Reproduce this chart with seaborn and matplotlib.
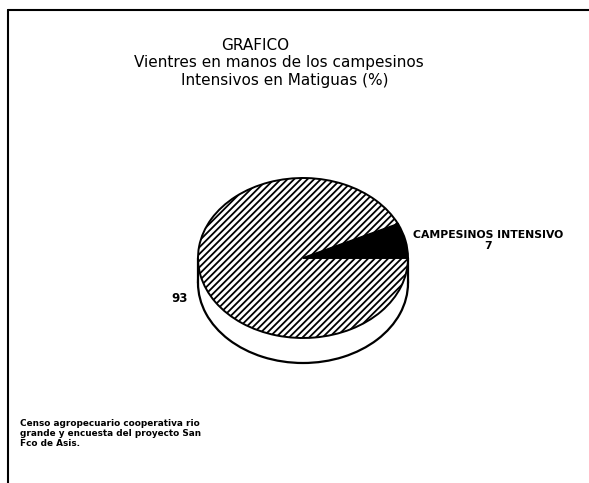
import numpy as np
import matplotlib
matplotlib.use("Agg")
import matplotlib.pyplot as plt
import seaborn as sns
from matplotlib.patches import Rectangle
from matplotlib.lines import Line2D

sns.set_style("white")
plt.rcParams['font.family'] = ['DejaVu Sans']
plt.rcParams['text.color'] = 'black'
plt.rcParams['hatch.linewidth'] = 1.3

# data
labels = ['CAMPESINOS INTENSIVO', '']
values = [7, 93]
title_lines = ['GRAFICO', 'Vientres en manos de los campesinos', 'Intensivos en Matiguas (%)']
source = 'Censo agropecuario cooperativa rio\ngrande y encuesta del proyecto San\nFco de Asis.'

W, H = 589, 483
squash = 80 / 105  # vertical flattening of the pie
cx, cy_px, r = 303, 258, 105
depth_px = 25

fig = plt.figure(figsize=(W / 100, H / 100), dpi=100)
ax = fig.add_axes([0, 0, 1, 1])

cy = (H - cy_px) / squash
depth = depth_px / squash

# side of the "3d" pie
ax.pie([100], colors=['white'], center=(cx, cy - depth), radius=r,
       wedgeprops=dict(edgecolor='black', linewidth=1.6), frame=True)
ax.add_patch(Rectangle((cx - r, cy - depth), 2 * r, depth, facecolor='white',
                       edgecolor='none', zorder=2))
ax.plot([cx - r, cx - r], [cy, cy - depth], color='black', lw=1.6, zorder=3)
ax.plot([cx + r, cx + r], [cy, cy - depth], color='black', lw=1.6, zorder=3)

# top face
wedges, _ = ax.pie(values, colors=['black', 'white'], startangle=0, counterclock=True,
                   center=(cx, cy), radius=r, hatch=['', '/////'],
                   wedgeprops=dict(edgecolor='black', linewidth=1.4), frame=True)
for w in wedges:
    w.set_zorder(4)

ax.set_aspect('auto')
ax.set_xlim(0, W)
ax.set_ylim(0, H / squash)
ax.axis('off')

# wedge labels
angles = np.cumsum([0] + values) / sum(values) * 360
mids = [(angles[i] + angles[i + 1]) / 2 for i in range(len(values))]
a = np.deg2rad(mids[0])
ax.text(cx + 1.07 * r * np.cos(a), cy + 1.0 * r * np.sin(a), labels[0] + '\n' + str(values[0]),
        ha='left', va='center', multialignment='center', fontsize=7.8,
        fontweight='bold', linespacing=1.2, zorder=5)
a = np.deg2rad(mids[1])
ax.text(cx + 1.12 * r * np.cos(a), cy - 0.5 * r, str(values[1]),
        ha='right', va='center', fontsize=8.5, fontweight='bold', zorder=5)

# titles
fig.text(255 / W, 1 - 45 / H, title_lines[0], ha='center', va='center', fontsize=11)
fig.text(279 / W, 1 - 63 / H, title_lines[1], ha='center', va='center', fontsize=11)
fig.text(285 / W, 1 - 80 / H, title_lines[2], ha='center', va='center', fontsize=11)

# source note
fig.text(20 / W, 1 - 419 / H, source, ha='left', va='top', fontsize=6.4,
         fontweight='heavy', linespacing=1.15)

# frame
fig.add_artist(Line2D([8 / W, 8 / W], [0, 1 - 10 / H], color='black', lw=1.5))
fig.add_artist(Line2D([8 / W, 1], [1 - 10 / H, 1 - 10 / H], color='black', lw=1.5))

fig.savefig('out.png', dpi=100)
